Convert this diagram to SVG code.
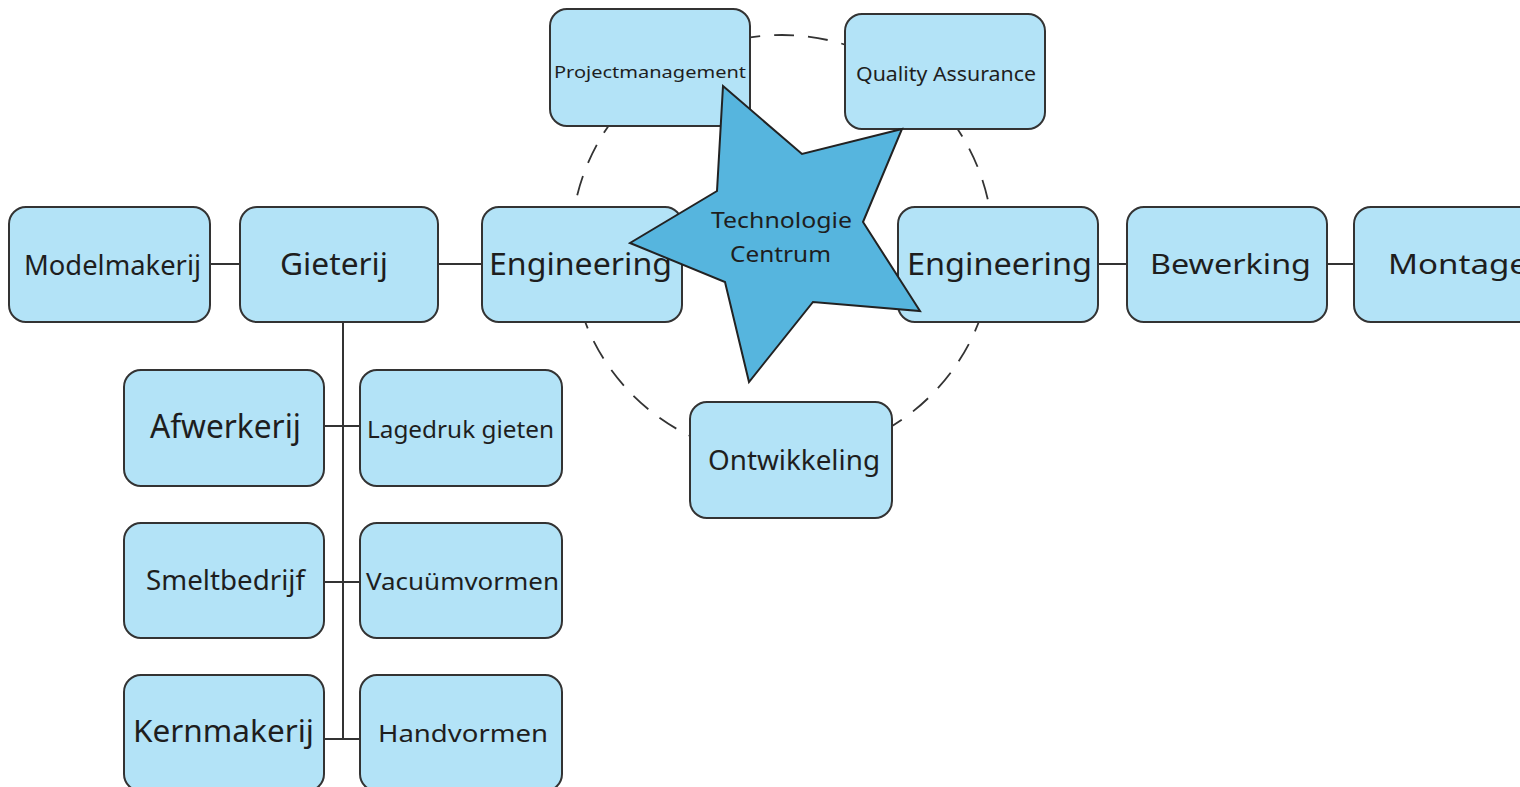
<svg xmlns="http://www.w3.org/2000/svg" width="1520" height="787" viewBox="0 0 1520 787">
<style>
.box{fill:#b3e3f7;stroke:#333;stroke-width:2}
.lbl{font-family:"Noto Sans","Open Sans",sans-serif;fill:#1e1e1e;text-anchor:middle}
.con{stroke:#333;stroke-width:2;fill:none}
</style>
<rect width="1520" height="787" fill="#fff"/>
<circle cx="782" cy="246" r="211" fill="none" stroke="#333" stroke-width="1.8" stroke-dasharray="20 14"/>
<g id="connectors">
<line class="con" x1="210" y1="264" x2="240" y2="264"/>
<line class="con" x1="438" y1="264" x2="482" y2="264"/>
<line class="con" x1="1098" y1="264" x2="1127" y2="264"/>
<line class="con" x1="1327" y1="264" x2="1354" y2="264"/>
<line class="con" x1="343" y1="322" x2="343" y2="739"/>
<line class="con" x1="324" y1="426" x2="360" y2="426"/>
<line class="con" x1="324" y1="582" x2="360" y2="582"/>
<line class="con" x1="324" y1="739" x2="360" y2="739"/>
</g>
<g id="modelmakerij"><rect class="box" x="9" y="207" width="201" height="115" rx="17"/><text class="lbl" x="112.5" y="275" font-size="28" textLength="177" lengthAdjust="spacingAndGlyphs">Modelmakerij</text></g>
<g id="gieterij"><rect class="box" x="240" y="207" width="198" height="115" rx="17"/><text class="lbl" x="334" y="275" font-size="30" textLength="108" lengthAdjust="spacingAndGlyphs">Gieterij</text></g>
<g id="engineering-left"><rect class="box" x="482" y="207" width="200" height="115" rx="17"/><text class="lbl" x="580.5" y="275" font-size="30" textLength="183" lengthAdjust="spacingAndGlyphs">Engineering</text></g>
<g id="engineering-right"><rect class="box" x="898" y="207" width="200" height="115" rx="17"/><text class="lbl" x="999.5" y="275" font-size="30" textLength="185" lengthAdjust="spacingAndGlyphs">Engineering</text></g>
<g id="bewerking"><rect class="box" x="1127" y="207" width="200" height="115" rx="17"/><text class="lbl" x="1230.5" y="274" font-size="28" textLength="161" lengthAdjust="spacingAndGlyphs">Bewerking</text></g>
<g id="montage"><rect class="box" x="1354" y="207" width="200" height="115" rx="17"/><text class="lbl" x="1388" y="274" font-size="28" style="text-anchor:start" textLength="140" lengthAdjust="spacingAndGlyphs">Montage</text></g>
<g id="projectmanagement"><rect class="box" x="550" y="9" width="200" height="117" rx="17"/><text class="lbl" x="650" y="78" font-size="17" textLength="192" lengthAdjust="spacingAndGlyphs">Projectmanagement</text></g>
<g id="quality-assurance"><rect class="box" x="845" y="14" width="200" height="115" rx="17"/><text class="lbl" x="946" y="81" font-size="20" textLength="180" lengthAdjust="spacingAndGlyphs">Quality Assurance</text></g>
<g id="ontwikkeling"><rect class="box" x="690" y="402" width="202" height="116" rx="17"/><text class="lbl" x="794" y="470" font-size="28" textLength="172" lengthAdjust="spacingAndGlyphs">Ontwikkeling</text></g>
<g id="afwerkerij"><rect class="box" x="124" y="370" width="200" height="116" rx="17"/><text class="lbl" x="225.5" y="438" font-size="32" textLength="151" lengthAdjust="spacingAndGlyphs">Afwerkerij</text></g>
<g id="lagedruk-gieten"><rect class="box" x="360" y="370" width="202" height="116" rx="17"/><text class="lbl" x="460.5" y="438" font-size="23" textLength="187" lengthAdjust="spacingAndGlyphs">Lagedruk gieten</text></g>
<g id="smeltbedrijf"><rect class="box" x="124" y="523" width="200" height="115" rx="17"/><text class="lbl" x="225.5" y="590" font-size="28" textLength="159" lengthAdjust="spacingAndGlyphs">Smeltbedrijf</text></g>
<g id="vacuumvormen"><rect class="box" x="360" y="523" width="202" height="115" rx="17"/><text class="lbl" x="462.5" y="590" font-size="24" textLength="193" lengthAdjust="spacingAndGlyphs">Vacuümvormen</text></g>
<g id="kernmakerij"><rect class="box" x="124" y="675" width="200" height="116" rx="17"/><text class="lbl" x="223.5" y="742" font-size="30" textLength="181" lengthAdjust="spacingAndGlyphs">Kernmakerij</text></g>
<g id="handvormen"><rect class="box" x="360" y="675" width="202" height="116" rx="17"/><text class="lbl" x="463" y="742" font-size="24" textLength="170" lengthAdjust="spacingAndGlyphs">Handvormen</text></g>
<g id="technologie-centrum">
<polygon points="723,86 802,154 902,129 863,222 920,311 813,302 749,382 725,282 630,243 717,191" fill="#56b5de" stroke="#222" stroke-width="2" stroke-linejoin="miter"/>
<text class="lbl" x="781.5" y="228" font-size="22" textLength="141" lengthAdjust="spacingAndGlyphs">Technologie</text>
<text class="lbl" x="780.5" y="262" font-size="21" textLength="101" lengthAdjust="spacingAndGlyphs">Centrum</text>
</g>
</svg>
